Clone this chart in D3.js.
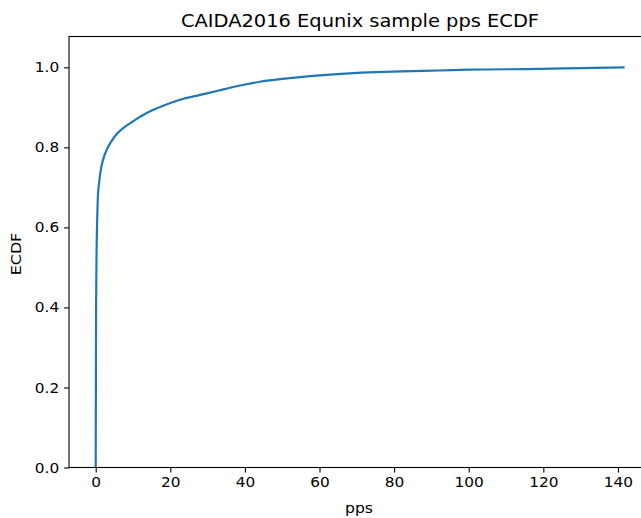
<!DOCTYPE html>
<html>
<head>
<meta charset="utf-8">
<script src="https://cdn.jsdelivr.net/npm/d3@7"></script>
<style>
  html, body { margin: 0; padding: 0; background: #fff; overflow: hidden; }
  svg { display: block; font-family: "DejaVu Sans", sans-serif; }
</style>
</head>
<body>
<svg id="chart" width="641" height="518"></svg>
<script>
// Data (pps value, ECDF)
const ppsValues = [0, 0.05, 0.1, 0.25, 0.4, 0.6, 0.9, 1.3, 2.0, 3.0, 4.2, 5.8, 7.9, 10, 12, 15, 18.6, 22.6, 28, 33, 36, 40, 44, 50, 57.5, 60, 68, 75, 82, 92, 100, 119, 130, 141.5];
const ecdfValues = [0, 0.2, 0.4, 0.55, 0.62, 0.68, 0.71, 0.74, 0.77, 0.795, 0.815, 0.835, 0.852, 0.865, 0.877, 0.892, 0.906, 0.919, 0.931, 0.942, 0.949, 0.957, 0.964, 0.971, 0.978, 0.980, 0.985, 0.988, 0.990, 0.992, 0.994, 0.996, 0.998, 1.0];
const xTicks = [0, 20, 40, 60, 80, 100, 120, 140];
const yTicks = [0.0, 0.2, 0.4, 0.6, 0.8, 1.0];
const titleText = "CAIDA2016 Equnix sample pps ECDF";
const xLabel = "pps";
const yLabel = "ECDF";

const data = ppsValues.map((v, i) => ({ x: v, y: ecdfValues[i] }));

const svg = d3.select("#chart");
const mLeft = 69, mRight = 650, mTop = 36.5, mBottom = 467.5;

const x = d3.scaleLinear().domain([-7.16, 148.6]).range([mLeft, mRight]);
const y = d3.scaleLinear().domain([0, 1.077]).range([mBottom, mTop]);

// widen text horizontally to match the reference's glyph widths
function stretch(sel, k) {
  sel.each(function () {
    const w = this.getComputedTextLength();
    d3.select(this).attr("textLength", w * k).attr("lengthAdjust", "spacingAndGlyphs");
  });
}

const clipId = "plotclip";
svg.append("defs").append("clipPath").attr("id", clipId)
  .append("rect").attr("x", mLeft).attr("y", mTop).attr("width", mRight - mLeft).attr("height", mBottom - mTop);

// line
const line = d3.line().x(d => x(d.x)).y(d => y(d.y)).curve(d3.curveMonotoneX);
svg.append("path")
  .datum(data)
  .attr("clip-path", `url(#${clipId})`)
  .attr("fill", "none")
  .attr("stroke", "#1f77b4")
  .attr("stroke-width", 2.2)
  .attr("stroke-linejoin", "round")
  .attr("stroke-linecap", "square")
  .attr("d", line);

// axes
const xAxis = d3.axisBottom(x).tickValues(xTicks).tickSize(4.9).tickPadding(4.9).tickFormat(d3.format("d"));
const yAxis = d3.axisLeft(y).tickValues(yTicks).tickSize(4.9).tickPadding(4.9).tickFormat(d3.format(".1f"));

const gx = svg.append("g").attr("transform", `translate(0,${mBottom})`).call(xAxis);
const gy = svg.append("g").attr("transform", `translate(${mLeft},0)`).call(yAxis);
[gx, gy].forEach(g => {
  g.select(".domain").remove();
  g.selectAll(".tick line").attr("stroke", "#000").attr("stroke-width", 1.1);
  g.selectAll(".tick text").attr("fill", "#000").style("font-size", "14.2px").style("font-family", "DejaVu Sans");
  stretch(g.selectAll(".tick text"), 1.08);
});

// spines
svg.append("rect")
  .attr("x", mLeft).attr("y", mTop)
  .attr("width", mRight - mLeft).attr("height", mBottom - mTop)
  .attr("fill", "none").attr("stroke", "#000").attr("stroke-width", 1.1);

// title
const t = svg.append("text")
  .attr("x", 360).attr("y", 26.5)
  .attr("text-anchor", "middle")
  .style("font-size", "16.9px")
  .attr("fill", "#000")
  .text(titleText);
stretch(t, 1.15);

// x label
const xl = svg.append("text")
  .attr("x", 359).attr("y", 513)
  .attr("text-anchor", "middle")
  .style("font-size", "14.2px")
  .attr("fill", "#000")
  .text(xLabel);
stretch(xl, 1.1);

// y label
const yl = svg.append("text")
  .attr("transform", `translate(21,${(mTop + mBottom) / 2 + 2}) rotate(-90)`)
  .attr("text-anchor", "middle")
  .style("font-size", "14.2px")
  .attr("fill", "#000")
  .text(yLabel);
stretch(yl, 1.12);
</script>
</body>
</html>
